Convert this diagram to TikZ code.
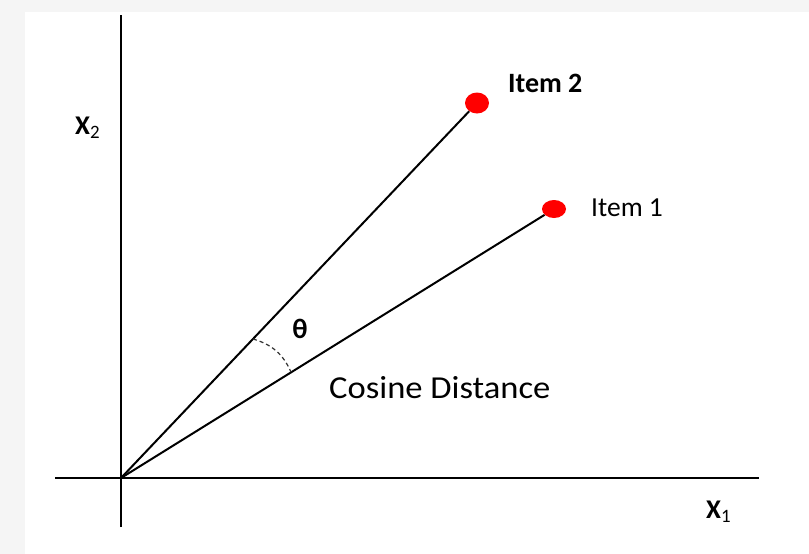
\documentclass[tikz,border=0pt]{standalone}
\usepackage{fontspec}
\usetikzlibrary{shapes.geometric}
\setmainfont{Carlito}
\begin{document}
\begin{tikzpicture}[x=1pt,y=-1pt,
  axis/.style={line width=2.8pt,black},
  vec/.style={line width=2pt,black},
  dot/.style={ellipse,fill=red,inner sep=0pt},
  lbl/.style={inner sep=0pt,anchor=west,text=black}]
\useasboundingbox (0,0) rectangle (809,554);
\fill[gray!8] (0,0) rectangle (809,554);
\fill[white] (25,12) rectangle (809,554);
% axes
\coordinate (o) at (121,478);
\coordinate (ytop) at (121,15);
\coordinate (ybot) at (121,527);
\coordinate (xl) at (55,478);
\coordinate (xr) at (759,478);
\draw[axis] (ybot) -- (ytop);
\draw[axis] (xl) -- (xr);
% items
\node[dot,minimum width=24pt,minimum height=21pt] (i2) at (477,103) {};
\node[dot,minimum width=24pt,minimum height=18pt] (i1) at (554,209) {};
\draw[vec] (o) -- (i2);
\draw[vec] (o) -- (i1);
% angle arc
\coordinate (a2) at (253,339);
\coordinate (a1) at (291,372);
\draw[line width=1.2pt,black!80,dash pattern=on 4pt off 3pt] (a2) to[bend left=25] (a1);
% labels
\node[lbl,font=\fontsize{28}{28}\selectfont\bfseries] (t2) at (508,83) {Item 2};
\node[lbl,font=\fontsize{27.5}{27.5}\selectfont] (t1) at (591,208) {Item 1};
\node[inner sep=0pt,font=\fontsize{28}{28}\selectfont\bfseries] (th) at (300,329) {θ};
\node[lbl,font=\fontsize{32}{32}\selectfont,xscale=1.08] (cd) at (329,388) {Cosine Distance};
\node[lbl,font=\fontsize{27}{27}\selectfont\bfseries] (x2) at (75,128) {X\textsubscript{\mdseries 2}};
\node[lbl,font=\fontsize{27}{27}\selectfont\bfseries] (x1) at (706,512) {X\textsubscript{\mdseries 1}};
\end{tikzpicture}
\end{document}
